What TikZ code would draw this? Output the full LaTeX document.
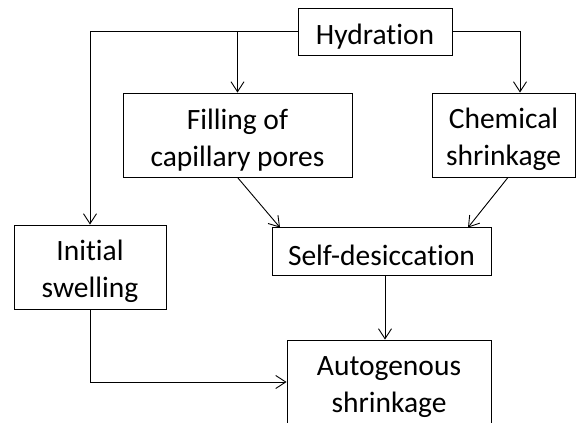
\documentclass[tikz,border=0pt]{standalone}
\usepackage{fontspec}
\setmainfont{Carlito}[Ligatures={NoCommon,NoContextual}]
\usetikzlibrary{arrows.meta}
\newcommand{\topstrut}{\rule{0pt}{30pt}}
\begin{document}
\begin{tikzpicture}[x=1pt,y=-1pt,
  box/.style={draw=black,line width=0.9pt,align=center,inner sep=0pt,
    font=\fontsize{29.5}{37}\selectfont},
  conn/.style={line width=0.9pt,-{Straight Barb[length=10pt,width=13pt,line width=0.9pt]}}]
\clip (0,0) rectangle (576,423);
\fill[white] (0,0) rectangle (576,423);
\node[box,minimum width=154pt,minimum height=47pt] (hyd) at (375,31.5) {\topstrut Hydration};
\node[box,minimum width=229pt,minimum height=84pt] (fill) at (237.5,135) {\topstrut Filling of\\capillary pores};
\node[box,minimum width=143pt,minimum height=84pt] (chem) at (503.5,135) {\topstrut Chemical\\shrinkage};
\node[box,minimum width=152pt,minimum height=84pt] (swell) at (90,267) {\topstrut Initial\\swelling};
\node[box,minimum width=219pt,minimum height=48pt] (self) at (381.5,251) {\topstrut Self-desiccation};
\node[box,minimum width=204pt,minimum height=84pt] (auto) at (389,382) {\topstrut Autogenous\\shrinkage};
\draw[conn] (hyd.west) -| (swell.north);
\draw[conn] (hyd.west) -| (fill.north);
\draw[conn] (hyd.east) -| ([xshift=16.5pt]chem.north);
\draw[conn] (fill.south) -- ([xshift=-101.5pt,yshift=-1pt]self.north);
\draw[conn] ([xshift=4.5pt]chem.south) -- ([xshift=86.5pt,yshift=-1pt]self.north);
\draw[conn] ([xshift=3.5pt]self.south) -- ([xshift=-4pt]auto.north);
\draw[conn] (swell.south) |- (auto.west);
\end{tikzpicture}
\end{document}
